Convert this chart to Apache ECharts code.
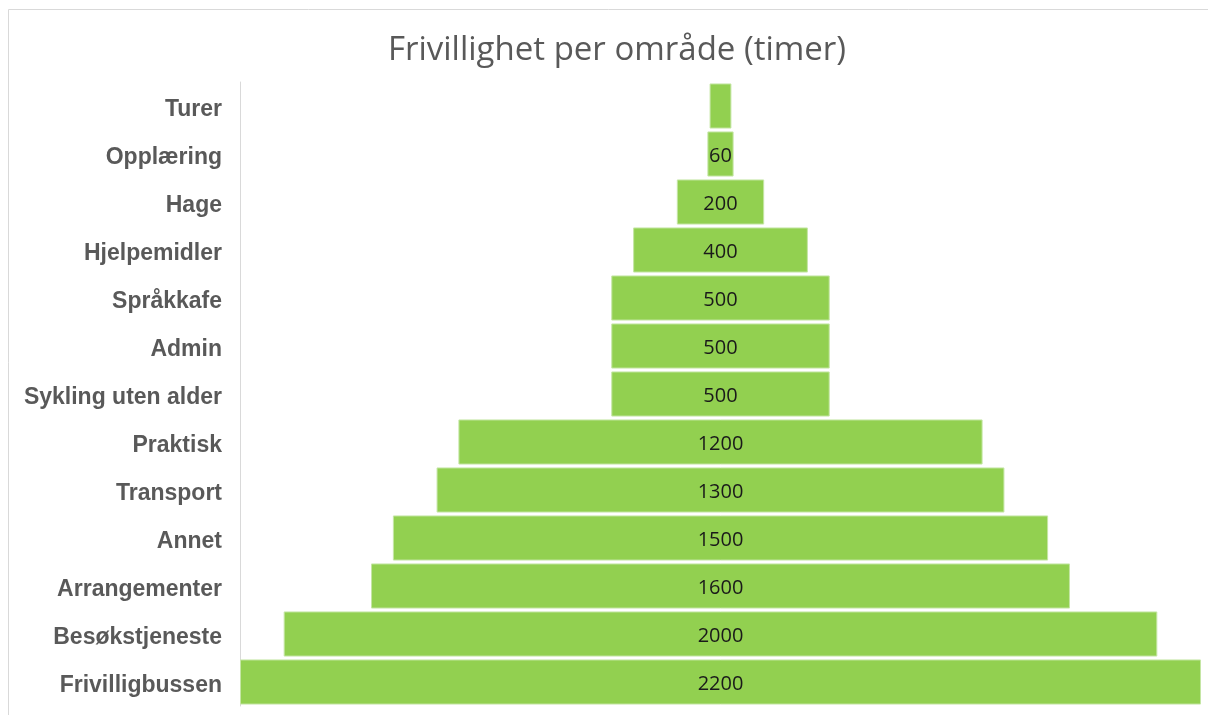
<!DOCTYPE html>
<html><head><meta charset="utf-8">
<script src="https://cdn.jsdelivr.net/npm/echarts@6/dist/echarts.min.js"></script>
<style>html,body{margin:0;padding:0;background:#fff}#c{width:1208px;height:715px}</style>
</head><body><div id="c"></div>
<script>
const categories = ["Turer","Opplæring","Hage","Hjelpemidler","Språkkafe","Admin","Sykling uten alder","Praktisk","Transport","Annet","Arrangementer","Besøkstjeneste","Frivilligbussen"];
const values = [50,60,200,400,500,500,500,1200,1300,1500,1600,2000,2200];
const showLabel = [false,true,true,true,true,true,true,true,true,true,true,true,true];
const maxVal = Math.max(...values);
const offsets = values.map(v => (maxVal - v) / 2);

const chart = echarts.init(document.getElementById('c'));
chart.setOption({
  animation: false,
  title: {
    text: 'Frivillighet per område (timer)',
    left: 612, top: 29, textAlign: 'center',
    textStyle: { fontFamily: 'Open Sans', fontWeight: 'normal', fontSize: 33, color: '#595959' }
  },
  graphic: [{ type: 'rect', shape: { x: 8.5, y: 9.5, width: 1300, height: 800 }, style: { fill: 'none', stroke: '#d9d9d9', lineWidth: 1 }, z: 0, silent: true }],
  grid: { left: 240, right: 7, top: 82, bottom: 9, containLabel: false },
  xAxis: { type: 'value', min: 0, max: maxVal, show: false },
  yAxis: {
    type: 'category', data: categories, inverse: true,
    axisLine: { show: true, lineStyle: { color: '#d9d9d9', width: 1 } },
    axisTick: { show: false },
    axisLabel: {
      margin: 18,
      formatter: v => '{a|' + v + '}',
      rich: { a: { fontFamily: 'Liberation Sans', fontWeight: 'bold', fontSize: 23, color: '#595959', padding: [7, 0, 0, 0] } }
    }
  },
  series: [
    { type: 'bar', stack: 's', data: offsets, itemStyle: { color: 'transparent' }, barCategoryGap: '6%', silent: true },
    { type: 'bar', stack: 's', data: values.map((v, i) => ({ value: v, label: { show: showLabel[i] } })),
      barCategoryGap: '6%',
      itemStyle: { color: '#92d050', borderColor: '#c5e6a5', borderWidth: 1 },
      label: {
        show: true, position: 'inside',
        formatter: p => '{v|' + p.value + '}',
        rich: { v: { fontFamily: 'Open Sans', fontSize: 20, color: '#1a1a1a', padding: [4, 0, 0, 0] } }
      } }
  ]
});
</script></body></html>
